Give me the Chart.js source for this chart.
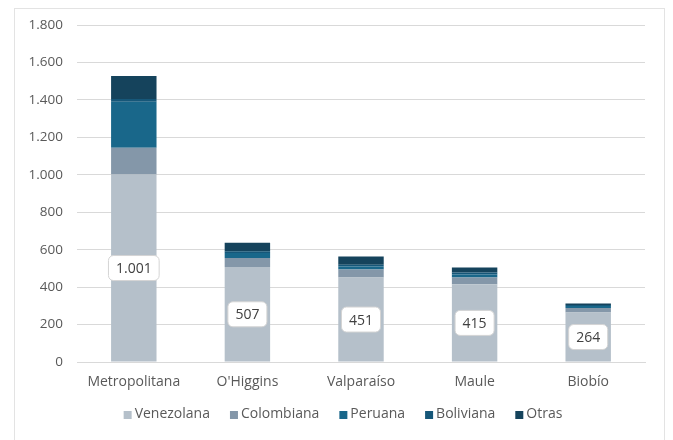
<!DOCTYPE html>
<html>
<head>
<meta charset="utf-8">
<script src="https://cdn.jsdelivr.net/npm/chart.js@4.4.0/dist/chart.umd.min.js"></script>
<style>
  html, body { margin: 0; padding: 0; background: #ffffff; }
  #frame { position: absolute; left: 14px; top: 8px; width: 651px; height: 440px; border: 1px solid #e3e3e3; box-sizing: border-box; }
  #wrap { position: absolute; left: 0; top: 0; width: 673px; height: 440px; }
</style>
</head>
<body>
<div id="frame"></div>
<div id="wrap"><canvas id="c" width="673" height="440"></canvas></div>
<script>
const categories = ['Metropolitana', "O'Higgins", 'Valparaíso', 'Maule', 'Biobío'];
const seriesNames = ['Venezolana', 'Colombiana', 'Peruana', 'Boliviana', 'Otras'];
const venezolana = [1001, 507, 451, 415, 264];
const colombiana = [144, 48, 43, 37, 25];
const peruana = [245, 27, 16, 16, 10];
const boliviana = [15, 10, 10, 10, 5];
const otras = [122, 45, 43, 27, 8];
const yTicks = [0, 200, 400, 600, 800, 1000, 1200, 1400, 1600, 1800];
const colors = ['#b5c0ca', '#8497a9', '#19678a', '#165779', '#15435c'];

const seriesValues = [venezolana, colombiana, peruana, boliviana, otras];
const FONT = '"Open Sans", "Liberation Sans", sans-serif';

function fmt(v) {
  return String(v).replace(/\B(?=(\d{3})+(?!\d))/g, '.');
}

const labelPlugin = {
  id: 'segLabels',
  afterDatasetsDraw(chart) {
    const ctx = chart.ctx;
    const meta = chart.getDatasetMeta(0);
    ctx.save();
    ctx.font = '14px ' + FONT;
    ctx.textAlign = 'center';
    ctx.textBaseline = 'middle';
    meta.data.forEach((bar, i) => {
      const p = bar.getProps(['x', 'y', 'base'], true);
      const cy = (p.y + p.base) / 2;
      const txt = fmt(chart.data.datasets[0].data[i]);
      const w = ctx.measureText(txt).width + 15;
      const h = 25;
      const x0 = p.x - w / 2, y0 = cy - h / 2;
      ctx.beginPath();
      ctx.roundRect(x0, y0, w, h, 5);
      ctx.fillStyle = '#ffffff';
      ctx.fill();
      ctx.lineWidth = 1;
      ctx.strokeStyle = '#d4d4d4';
      ctx.stroke();
      ctx.fillStyle = '#404040';
      ctx.fillText(txt, p.x, cy + 1);
    });
    ctx.restore();
  }
};

const legendPlugin = {
  id: 'customLegend',
  afterDraw(chart) {
    const ctx = chart.ctx;
    ctx.save();
    ctx.font = '14px ' + FONT;
    ctx.textBaseline = 'middle';
    ctx.textAlign = 'left';
    const box = 8, gapBox = 3, gapItem = 20;
    const ds = chart.data.datasets;
    let total = 0;
    const widths = ds.map(d => ctx.measureText(d.label).width);
    widths.forEach((w, i) => { total += box + gapBox + w + (i < widths.length - 1 ? gapItem : 0); });
    let x = 343 - total / 2;
    const y = 414;
    ds.forEach((d, i) => {
      ctx.fillStyle = d.backgroundColor;
      ctx.fillRect(x, y - box / 2 + 1, box, box);
      x += box + gapBox;
      ctx.fillStyle = '#595959';
      ctx.fillText(d.label, x, y);
      x += widths[i] + gapItem;
    });
    ctx.restore();
  }
};

new Chart(document.getElementById('c'), {
  type: 'bar',
  data: {
    labels: categories,
    datasets: seriesNames.map((n, k) => ({
      label: n,
      data: seriesValues[k],
      backgroundColor: colors[k],
      borderWidth: 0,
      categoryPercentage: 1,
      barPercentage: 0.4
    }))
  },
  options: {
    responsive: false,
    animation: false,
    events: [],
    layout: { padding: { left: 0, right: 28, top: 25, bottom: 43 } },
    plugins: { legend: { display: false }, tooltip: { enabled: false } },
    scales: {
      x: {
        stacked: true,
        grid: { display: false, drawTicks: false },
        border: { display: true, color: '#d9d9d9', width: 1 },
        ticks: { color: '#595959', font: { family: FONT, size: 14 }, padding: 12, maxRotation: 0 },
        afterFit(s) { s.height = 35; }
      },
      y: {
        stacked: true,
        min: 0,
        max: 1800,
        afterBuildTicks(s) { s.ticks = yTicks.map(v => ({ value: v })); },
        grid: { color: '#d9d9d9', drawTicks: false },
        border: { display: false },
        ticks: { color: '#595959', font: { family: FONT, size: 13.5 }, padding: 14, callback: v => fmt(v) },
        afterFit(s) { s.width = 77; }
      }
    }
  },
  plugins: [labelPlugin, legendPlugin]
});
</script>
</body>
</html>
